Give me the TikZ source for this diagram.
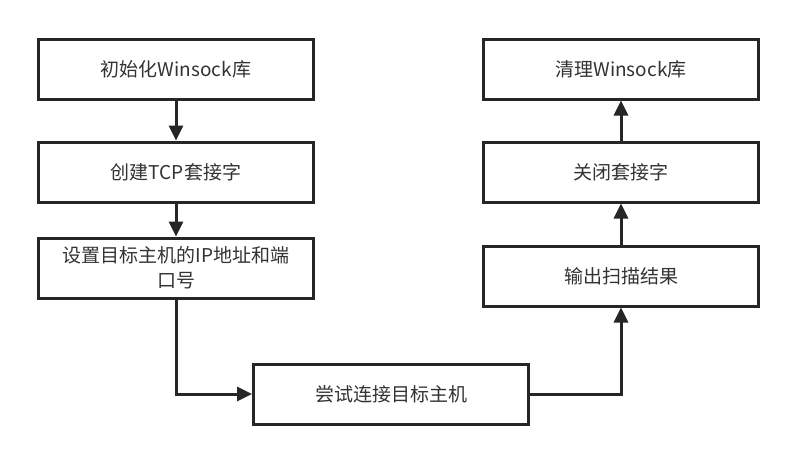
\documentclass[tikz,border=0pt]{standalone}
\usepackage{fontspec}
\setmainfont{Noto Sans CJK SC}
\usetikzlibrary{arrows.meta}

\begin{document}
\begin{tikzpicture}[x=1pt,y=-1pt,
  stepbox/.style={draw=black!85,line width=3pt,fill=white,minimum width=275pt,minimum height=60pt,
    inner sep=0pt,align=center,font=\fontsize{19}{25}\selectfont,text=black!80},
  link/.style={draw=black!85,line width=3pt,-{Triangle[length=15pt,width=14pt]}}]
      \useasboundingbox[fill=white] (0,0) rectangle (798,463);
      % Left column: setup
      \node[stepbox] (init) at (176,69) {初始化Winsock库};
      \node[stepbox] (sock) at (176,172) {创建TCP套接字};
      \node[stepbox] (addr) at (176,268) {设置目标主机的IP地址和端\\口号};
      % Bottom: connect
      \node[stepbox] (conn) at (391,394) {尝试连接目标主机};
      % Right column: teardown
      \node[stepbox] (outp) at (621,276) {输出扫描结果};
      \node[stepbox] (clos) at (621,172) {关闭套接字};
      \node[stepbox] (clean) at (621,69) {清理Winsock库};
      % Connectors
      \draw[link] (init) -- (sock);
      \draw[link] (sock) -- (addr);
      \draw[link] (addr.south) |- (conn.west);
      \draw[link] (conn.east) -| (outp.south);
      \draw[link] (outp) -- (clos);
      \draw[link] (clos) -- (clean);
\end{tikzpicture}
\end{document}
